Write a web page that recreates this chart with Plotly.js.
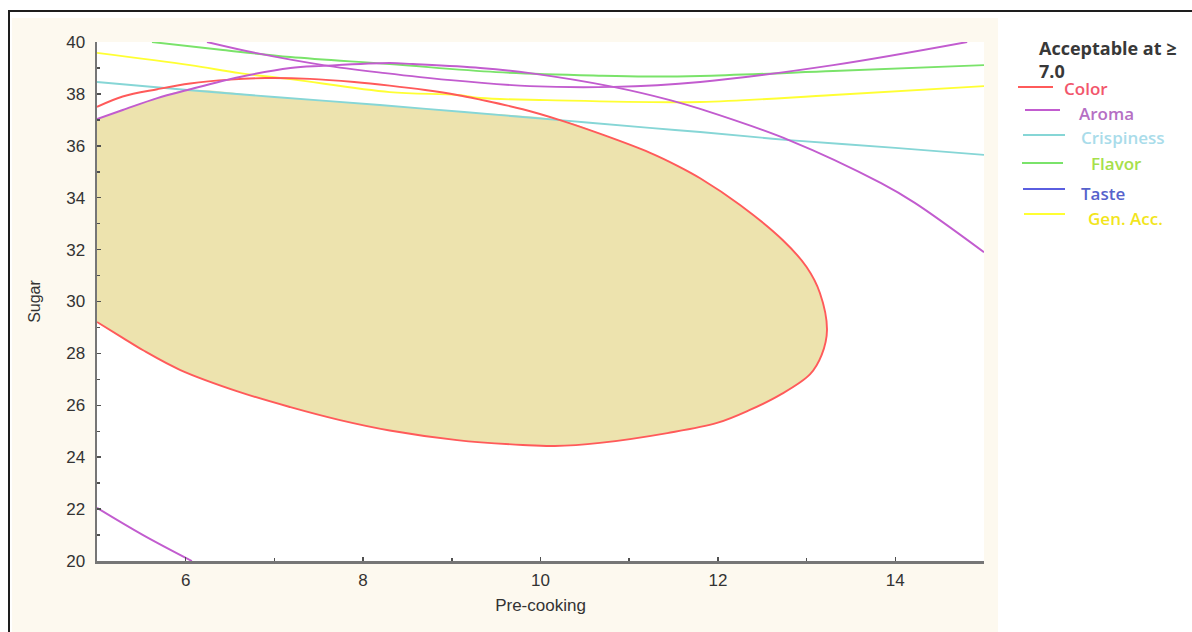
<!DOCTYPE html>
<html>
<head>
<meta charset="utf-8">
<script src="https://cdn.plot.ly/plotly-3.0.1.min.js"></script>
<style>
  html, body { margin: 0; padding: 0; background: #ffffff; }
  #chart { width: 1192px; height: 632px; }
</style>
</head>
<body>
<div id="chart"></div>
<script>
// Contour boundaries where each sensory score reaches 7.0,
// plotted over pre-cooking time (x) and sugar level (y).

// Color: closed boundary, traced clockwise from the left edge (top) back to the left edge (bottom)
const colorX = [5.00, 5.29, 5.68, 6.05, 6.50, 6.90, 7.40, 7.90, 8.30, 8.70, 9.06, 9.32, 9.80, 10.22,
                10.70, 11.23, 11.55, 11.80, 12.25, 12.73, 13.00, 13.15, 13.23, 13.17, 13.04, 12.70, 12.36,
                11.99, 11.43, 10.67, 10.16, 9.80, 9.06, 8.30, 7.74, 7.18, 6.61, 5.94, 5.52, 5.29, 5.00];
const colorY = [37.50, 37.90, 38.18, 38.40, 38.55, 38.61, 38.58, 38.46, 38.32, 38.15, 37.96, 37.78, 37.41, 36.99,
                36.43, 35.74, 35.22, 34.75, 33.72, 32.37, 31.33, 30.33, 28.90, 27.94, 27.20, 26.40, 25.82,
                25.32, 24.93, 24.55, 24.43, 24.47, 24.66, 25.03, 25.43, 25.93, 26.51, 27.36, 28.12, 28.60, 29.21];

// Aroma: three branches
const aromaAX = [5.00, 5.29, 5.68, 6.02, 6.61, 7.18, 7.55, 8.30, 8.56, 9.32, 9.88, 10.82, 11.46, 11.80, 12.80, 13.84, 14.22, 15.00];
const aromaAY = [37.03, 37.38, 37.84, 38.15, 38.65, 39.00, 39.08, 39.19, 39.15, 39.00, 38.80, 38.27, 37.76, 37.42, 36.22, 34.56, 33.80, 31.90];
const aromaBX = [6.24, 6.80, 7.55, 8.25, 8.95, 9.88, 10.82, 11.80, 13.30, 14.81];
const aromaBY = [40.00, 39.57, 39.11, 38.80, 38.54, 38.30, 38.27, 38.46, 39.11, 40.00];
const aromaCX = [5.00, 5.52, 6.07];
const aromaCY = [22.05, 21.00, 20.00];

// Crispiness
const crispX = [5.00, 6.02, 7.00, 8.19, 9.14, 10.22, 11.23, 11.80, 12.80, 14.00, 15.00];
const crispY = [38.46, 38.15, 37.88, 37.57, 37.30, 36.99, 36.69, 36.53, 36.22, 35.92, 35.65];

// Flavor
const flavorX = [5.62, 6.42, 7.18, 8.30, 9.50, 10.70, 11.20, 11.80, 13.30, 15.00];
const flavorY = [40.00, 39.69, 39.42, 39.15, 38.84, 38.70, 38.67, 38.69, 38.88, 39.11];

// General acceptability
const genAccX = [5.00, 6.05, 6.61, 7.18, 8.30, 9.06, 9.32, 10.07, 11.80, 13.30, 15.00];
const genAccY = [39.58, 39.11, 38.80, 38.57, 38.07, 37.96, 37.84, 37.76, 37.69, 37.96, 38.30];

// Axis settings
const xTickVals = [6, 8, 10, 12, 14];
const yTickVals = [20, 22, 24, 26, 28, 30, 32, 34, 36, 38, 40];

// Legend entries
const legendNames = ["Color", "Aroma", "Crispiness", "Flavor", "Taste", "Gen. Acc."];
const legendColors = ["#ff5a5a", "#c25ccf", "#86d6d6", "#7ae36a", "#5a5ee0", "#ffff33"];
const legendTextColors = ["#f2566c", "#b56fc4", "#a9dcea", "#a6e04a", "#5662cc", "#f2e51c"];
const legendTitle = ["Acceptable at ≥", "7.0"];

// Region acceptable for all attributes: Aroma up to the Crispiness crossing,
// Crispiness up to the Color crossing, then the Color boundary back to the left edge.
function between(xs, ys, from, to) {
  const out = { x: [], y: [] };
  for (let i = from; i <= to; i++) { out.x.push(xs[i]); out.y.push(ys[i]); }
  return out;
}
const iA = aromaAX.indexOf(6.02);
const iC0 = crispX.indexOf(6.02), iC1 = crispX.indexOf(10.22);
const iK = colorX.indexOf(10.22);
const segA = between(aromaAX, aromaAY, 0, iA);
const segC = between(crispX, crispY, iC0 + 1, iC1 - 1);
const segK = between(colorX, colorY, iK, colorX.length - 1);
const regionX = segA.x.concat(segC.x, segK.x);
const regionY = segA.y.concat(segC.y, segK.y);

// Pixel geometry of the plotting area, used to place the decorations
const W = 1192, H = 632;
const L = 97, R = 984, T = 42, B = 561;
const px = p => (p - L) / (R - L);
const py = p => (B - p) / (B - T);

const lineStyle = (color, width) => ({ color: color, width: width, shape: 'spline', smoothing: 1 });

const traces = [
  { x: regionX, y: regionY, type: 'scatter', mode: 'lines', fill: 'toself', fillcolor: '#ede3ae',
    line: { width: 0, shape: 'spline', smoothing: 1 }, hoverinfo: 'skip', showlegend: false },
  { x: crispX, y: crispY, type: 'scatter', mode: 'lines', line: lineStyle(legendColors[2], 1.9), name: 'Crispiness' },
  { x: genAccX, y: genAccY, type: 'scatter', mode: 'lines', line: lineStyle(legendColors[5], 1.9), name: 'Gen. Acc.' },
  { x: flavorX, y: flavorY, type: 'scatter', mode: 'lines', line: lineStyle(legendColors[3], 1.9), name: 'Flavor' },
  { x: colorX, y: colorY, type: 'scatter', mode: 'lines', line: lineStyle(legendColors[0], 1.9), name: 'Color' },
  { x: aromaAX, y: aromaAY, type: 'scatter', mode: 'lines', line: lineStyle(legendColors[1], 1.9), name: 'Aroma' },
  { x: aromaBX, y: aromaBY, type: 'scatter', mode: 'lines', line: lineStyle(legendColors[1], 1.9), name: 'Aroma' },
  { x: aromaCX, y: aromaCY, type: 'scatter', mode: 'lines', line: lineStyle(legendColors[1], 1.9), name: 'Aroma' }
];

const textFamily = 'Liberation Sans, Arial, sans-serif';
const tickFont = { family: textFamily, size: 17, color: '#333333' };
const axisLine = '#767676';

const shapes = [
  // cream panel behind the chart
  { type: 'rect', xref: 'paper', yref: 'paper', x0: px(12), x1: px(998), y0: py(H + 5), y1: py(18),
    fillcolor: '#fdf9ef', line: { width: 0 }, layer: 'below' },
  // white plotting area
  { type: 'rect', xref: 'paper', yref: 'paper', x0: 0, x1: 1, y0: 0, y1: 1,
    fillcolor: '#ffffff', line: { width: 0 }, layer: 'below' },
  // outer frame
  { type: 'line', xref: 'paper', yref: 'paper', x0: px(8), x1: px(W + 10), y0: py(11), y1: py(11),
    line: { color: '#1e1e1e', width: 2 } },
  { type: 'line', xref: 'paper', yref: 'paper', x0: px(9), x1: px(9), y0: py(11), y1: py(H + 10),
    line: { color: '#1e1e1e', width: 2 } }
];

// legend sample lines and labels
const legendLinePx = [[1018, 1053, 87], [1025, 1060, 110], [1023, 1065, 135], [1022, 1063, 163], [1023, 1065, 189], [1024, 1065, 214]];
const legendTextPx = [[1062, 88], [1077, 113], [1079, 137], [1089, 163], [1079, 193], [1086, 218]];
const legendFamily = 'Open Sans, sans-serif';
const annotations = [
  { xref: 'paper', yref: 'paper', x: px(1037), y: py(48), xanchor: 'left', yanchor: 'middle', showarrow: false,
    text: legendTitle[0], font: { family: legendFamily, size: 18, color: '#383838', weight: 'bold' } },
  { xref: 'paper', yref: 'paper', x: px(1037), y: py(71), xanchor: 'left', yanchor: 'middle', showarrow: false,
    text: legendTitle[1], font: { family: legendFamily, size: 18, color: '#383838', weight: 'bold' } }
];
legendNames.forEach((name, i) => {
  const [a, b, yy] = legendLinePx[i];
  shapes.push({ type: 'line', xref: 'paper', yref: 'paper', x0: px(a), x1: px(b), y0: py(yy), y1: py(yy),
    line: { color: legendColors[i], width: 2 } });
  const [tx, ty] = legendTextPx[i];
  annotations.push({ xref: 'paper', yref: 'paper', x: px(tx), y: py(ty), xanchor: 'left', yanchor: 'middle',
    showarrow: false, text: name,
    font: { family: legendFamily, size: 17, color: legendTextColors[i], weight: 600 } });
});

const layout = {
  width: W, height: H,
  margin: { l: L, r: W - R, t: T, b: H - B, pad: 0 },
  paper_bgcolor: '#ffffff',
  plot_bgcolor: '#ffffff',
  showlegend: false,
  xaxis: {
    range: [5, 15], tickvals: xTickVals, ticks: 'inside', ticklen: 4, tickwidth: 1.5, tickcolor: '#505050',
    minor: { dtick: 1, tick0: 5, ticks: 'inside', ticklen: 3, tickwidth: 1.5, tickcolor: '#505050' },
    showline: true, linecolor: axisLine, linewidth: 2.5, showgrid: false, zeroline: false,
    tickfont: tickFont, ticklabelstandoff: 2,
    title: { text: 'Pre-cooking', font: { family: textFamily, size: 17, color: '#333333' }, standoff: 10 }
  },
  yaxis: {
    range: [20, 40], tickvals: yTickVals, ticks: 'inside', ticklen: 4, tickwidth: 1.5, tickcolor: '#505050',
    minor: { dtick: 1, tick0: 20, ticks: 'inside', ticklen: 3, tickwidth: 1.5, tickcolor: '#505050' },
    showline: true, linecolor: axisLine, linewidth: 2.5, showgrid: false, zeroline: false,
    tickfont: tickFont, ticklabelstandoff: 6,
    title: { text: 'Sugar', font: { family: textFamily, size: 16, color: '#333333' }, standoff: 22 }
  },
  // frame axes on the top and right with their own finer tick spacing
  xaxis2: {
    overlaying: 'x', side: 'top', anchor: 'y', range: [0, 12], dtick: 1, ticks: 'inside', ticklen: 3,
    tickwidth: 1.5, tickcolor: '#505050', showticklabels: false, showline: true, linecolor: axisLine,
    linewidth: 2.5, showgrid: false, zeroline: false
  },
  yaxis2: {
    overlaying: 'y', side: 'right', anchor: 'x', range: [0, 24], dtick: 1, ticks: 'inside', ticklen: 3,
    tickwidth: 1.5, tickcolor: '#505050', showticklabels: false, showline: true, linecolor: axisLine,
    linewidth: 2.5, showgrid: false, zeroline: false
  },
  shapes: shapes,
  annotations: annotations
};

Plotly.newPlot('chart', traces, layout, { displayModeBar: false, staticPlot: true });
</script>
</body>
</html>
